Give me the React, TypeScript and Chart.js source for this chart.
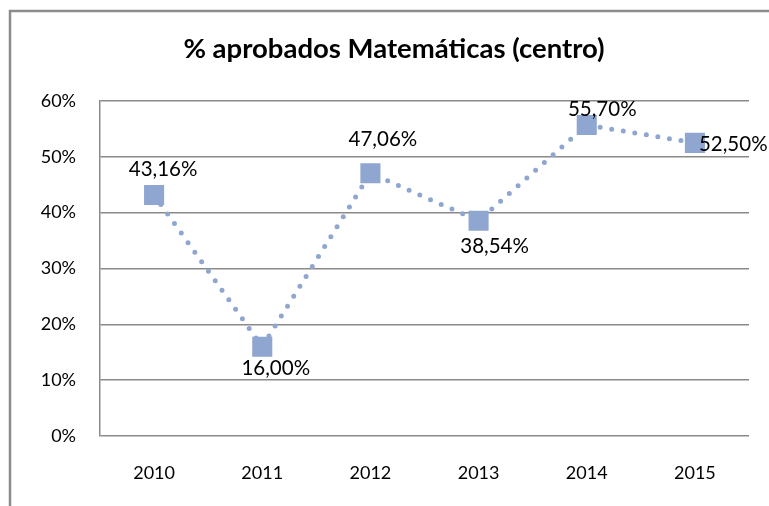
import { useEffect, useRef } from "react";
import { Chart, registerables } from "chart.js";

Chart.register(...registerables);

const chartTitle = "% aprobados Matemáticas (centro)";
const years = ["2010", "2011", "2012", "2013", "2014", "2015"];
const aprobados = [43.16, 16.0, 47.06, 38.54, 55.7, 52.5];
const yMin = 0;
const yMax = 60;
const yStep = 10;

// label placement relative to each point (style only)
const labelPlacement = [
  { dx: 9, dy: -26, align: "center" },
  { dx: 13.5, dy: 21, align: "center" },
  { dx: 12.5, dy: -35, align: "center" },
  { dx: 16, dy: 25, align: "center" },
  { dx: 15.5, dy: -16, align: "center" },
  { dx: 4, dy: 1, align: "left" },
];

const FONT = "Lato, 'Open Sans', sans-serif";
const SERIES_COLOR = "rgb(143,167,208)";
const GRID_COLOR = "#8a8a8a";

const fmt = (v: number) => v.toFixed(2).replace(".", ",") + "%";

const decorPlugin = {
  id: "decor",
  beforeDraw(chart: any) {
    const ctx = chart.ctx;
    ctx.save();
    ctx.fillStyle = "#fff";
    ctx.fillRect(0, 0, chart.width, chart.height);
    ctx.strokeStyle = "#8c8c8c";
    ctx.lineWidth = 2.5;
    ctx.strokeRect(10, 11, chart.width + 20, chart.height + 20);
    ctx.fillStyle = "#000";
    ctx.font = `bold 27.5px ${FONT}`;
    ctx.textAlign = "center";
    ctx.textBaseline = "alphabetic";
    ctx.fillText(chartTitle, 394, 58);
    ctx.restore();
  },
  afterDatasetsDraw(chart: any) {
    const ctx = chart.ctx;
    const meta = chart.getDatasetMeta(0);
    ctx.save();
    ctx.fillStyle = "#000";
    const size = 20.5;
    ctx.font = `${size}px ${FONT}`;
    ctx.textBaseline = "alphabetic";
    meta.data.forEach((pt: any, i: number) => {
      const p = labelPlacement[i];
      ctx.textAlign = p.align;
      ctx.fillText(fmt(aprobados[i]), pt.x + p.dx, pt.y + p.dy + size * 0.36);
    });
    ctx.restore();
  },
};

export default function App() {
  const ref = useRef<HTMLCanvasElement | null>(null);
  useEffect(() => {
    if (!ref.current) return;
    const chart = new Chart(ref.current, {
      type: "line",
      data: {
        labels: years,
        datasets: [
          {
            data: aprobados,
            borderColor: SERIES_COLOR,
            backgroundColor: SERIES_COLOR,
            borderWidth: 5,
            borderDash: [0, 11.7],
            borderCapStyle: "round",
            tension: 0,
            pointStyle: "rect",
            pointRadius: 14.2,
            pointHoverRadius: 14.2,
            pointBorderWidth: 0,
            pointBackgroundColor: SERIES_COLOR,
          },
        ],
      },
      options: {
        responsive: false,
        animation: false,
        devicePixelRatio: 1,
        layout: { padding: { top: 101, left: 0, right: 20, bottom: 0 } },
        plugins: {
          legend: { display: false },
          title: { display: false },
          tooltip: { enabled: false },
        },
        scales: {
          x: {
            offset: true,
            grid: { display: false, drawTicks: false },
            border: { display: false },
            ticks: {
              color: "#000",
              font: { family: FONT, size: 18 },
              padding: 26,
              maxRotation: 0,
            },
            afterFit: (s: any) => {
              s.height = 70;
            },
          },
          y: {
            min: yMin,
            max: yMax,
            grid: { color: GRID_COLOR, lineWidth: 1.5, drawTicks: false },
            border: { display: true, color: GRID_COLOR, width: 1.5 },
            ticks: {
              stepSize: yStep,
              color: "#000",
              font: { family: FONT, size: 18 },
              padding: 24,
              callback: (v: any) => v + "%",
            },
            afterFit: (s: any) => {
              s.width = 100;
            },
          },
        },
      },
      plugins: [decorPlugin],
    });
    return () => chart.destroy();
  }, []);
  return (
    <canvas
      ref={ref}
      width={769}
      height={506}
      style={{ position: "fixed", left: 0, top: 0, width: 769, height: 506 }}
    />
  );
}
